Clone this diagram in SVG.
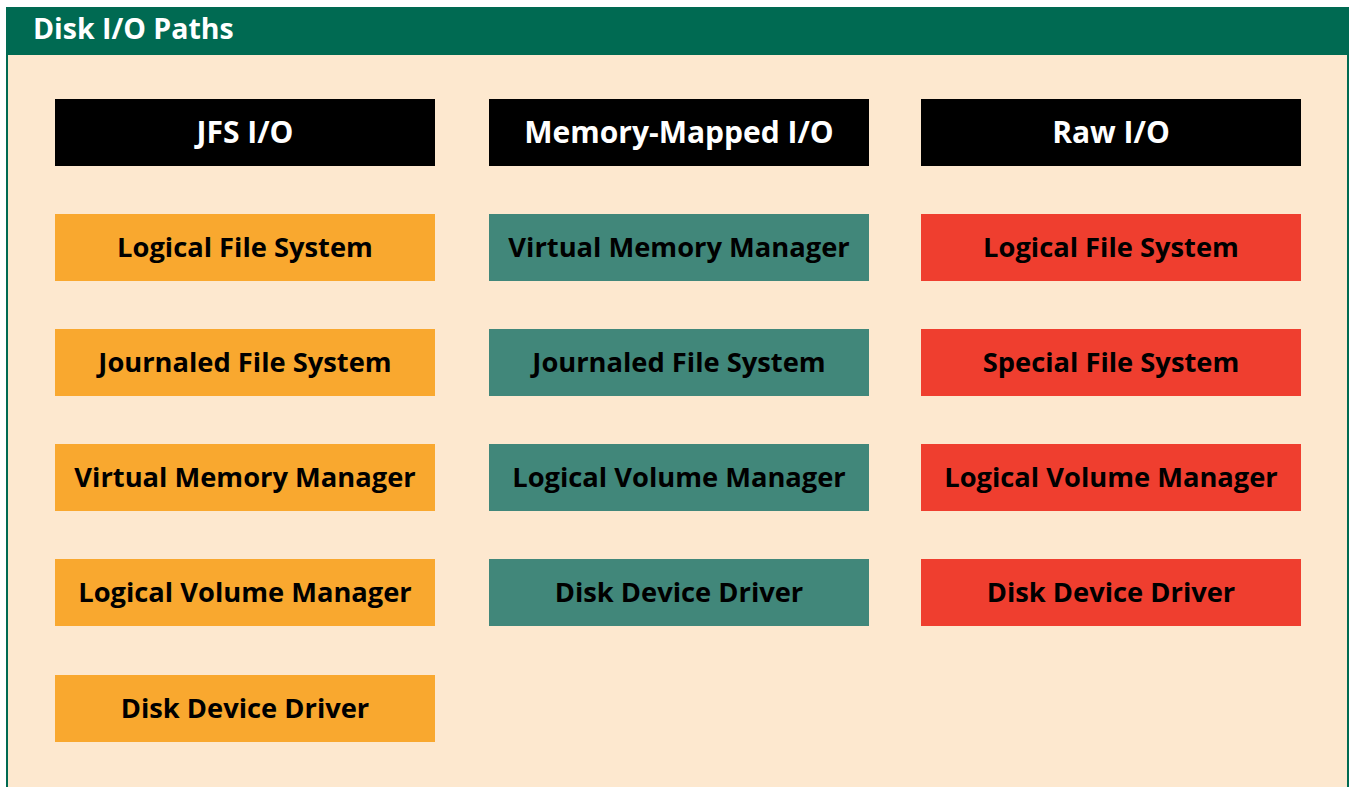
<svg xmlns="http://www.w3.org/2000/svg" width="1349" height="787" viewBox="0 0 1349 787">
<style>
.lbl{font-family:"Open Sans","Noto Sans","DejaVu Sans",sans-serif;font-weight:bold;font-size:27.3px;text-anchor:middle;dominant-baseline:central;fill:#000}
.hdr{fill:#000}
.ht{fill:#fff;font-size:30px}
.o{fill:#F9A82F}
.t{fill:#41877A}
.r{fill:#EF3E2F}
</style>
<rect x="0" y="0" width="1349" height="787" fill="#fff"/>
<rect x="7" y="8" width="1341" height="790" fill="#FDE8CF" stroke="#006A52" stroke-width="2"/>
<rect x="6" y="7" width="1343" height="48" fill="#006A52"/>
<text x="33" y="28" class="lbl" style="text-anchor:start;fill:#fff;font-size:28.5px">Disk I/O Paths</text>
<g id="h1"><rect x="55" y="99" width="380" height="67" class="hdr"/><text x="245" y="131" class="lbl ht">JFS I/O</text></g>
<g id="h2"><rect x="489" y="99" width="380" height="67" class="hdr"/><text x="679" y="131" class="lbl ht">Memory-Mapped I/O</text></g>
<g id="h3"><rect x="921" y="99" width="380" height="67" class="hdr"/><text x="1111" y="131" class="lbl ht">Raw I/O</text></g>
<g id="a1"><rect x="55" y="214" width="380" height="67" class="o"/><text x="245" y="246.5" class="lbl">Logical File System</text></g>
<g id="a2"><rect x="55" y="329" width="380" height="67" class="o"/><text x="245" y="361.5" class="lbl">Journaled File System</text></g>
<g id="a3"><rect x="55" y="444" width="380" height="67" class="o"/><text x="245" y="476.5" class="lbl">Virtual Memory Manager</text></g>
<g id="a4"><rect x="55" y="559" width="380" height="67" class="o"/><text x="245" y="591.5" class="lbl">Logical Volume Manager</text></g>
<g id="a5"><rect x="55" y="675" width="380" height="67" class="o"/><text x="245" y="707.5" class="lbl">Disk Device Driver</text></g>
<g id="b1"><rect x="489" y="214" width="380" height="67" class="t"/><text x="679" y="246.5" class="lbl">Virtual Memory Manager</text></g>
<g id="b2"><rect x="489" y="329" width="380" height="67" class="t"/><text x="679" y="361.5" class="lbl">Journaled File System</text></g>
<g id="b3"><rect x="489" y="444" width="380" height="67" class="t"/><text x="679" y="476.5" class="lbl">Logical Volume Manager</text></g>
<g id="b4"><rect x="489" y="559" width="380" height="67" class="t"/><text x="679" y="591.5" class="lbl">Disk Device Driver</text></g>
<g id="c1"><rect x="921" y="214" width="380" height="67" class="r"/><text x="1111" y="246.5" class="lbl">Logical File System</text></g>
<g id="c2"><rect x="921" y="329" width="380" height="67" class="r"/><text x="1111" y="361.5" class="lbl">Special File System</text></g>
<g id="c3"><rect x="921" y="444" width="380" height="67" class="r"/><text x="1111" y="476.5" class="lbl">Logical Volume Manager</text></g>
<g id="c4"><rect x="921" y="559" width="380" height="67" class="r"/><text x="1111" y="591.5" class="lbl">Disk Device Driver</text></g>
<g id="connectors"></g>
</svg>
